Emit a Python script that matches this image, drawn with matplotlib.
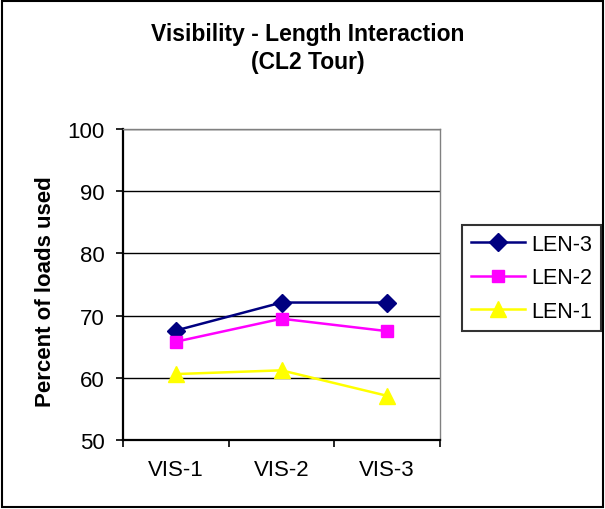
import matplotlib
matplotlib.use("Agg")
import matplotlib.pyplot as plt
from matplotlib.patches import Rectangle

plt.rcParams["font.family"] = ["Liberation Sans", "DejaVu Sans"]

# ── Data ────────────────────────────────────────────────────────────────────
CATEGORIES = ["VIS-1", "VIS-2", "VIS-3"]
LEN3 = [67.6, 72.1, 72.1]
LEN2 = [65.8, 69.5, 67.5]
LEN1 = [60.6, 61.2, 57.1]

SERIES = [
    ("LEN-3", LEN3, "#000080", "D", 9),
    ("LEN-2", LEN2, "#FF00FF", "s", 8.5),
    ("LEN-1", LEN1, "#FFFF00", "^", 11),
]

# ── Figure ──────────────────────────────────────────────────────────────────
fig = plt.figure(figsize=(6.05, 5.1), dpi=100)
fig.patches.append(Rectangle((0.004, 0.004), 0.992, 0.992,
                             transform=fig.transFigure, fill=False,
                             edgecolor="black", linewidth=1.5))

ax = fig.add_axes([0.2033, 0.1353, 0.5240, 0.6098])
x = list(range(1, len(CATEGORIES) + 1))

for label, vals, color, marker, ms in SERIES:
    ax.plot(x, vals, color=color, linewidth=1.8, marker=marker,
            markersize=ms, markerfacecolor=color, markeredgecolor=color,
            label=label, zorder=3)

ax.set_ylim(50, 100)
ax.set_yticks([50, 60, 70, 80, 90, 100])
ax.set_xlim(0.5, 3.5)
ax.set_xticks([0.5, 1.5, 2.5, 3.5])
ax.set_xticklabels([])
ax.set_xticks(x, minor=True)
ax.set_xticklabels(CATEGORIES, minor=True)
ax.tick_params(axis="x", which="major", direction="out", length=5,
               width=1.2, color="black")
ax.tick_params(axis="x", which="minor", length=0, pad=14, labelsize=16)
ax.tick_params(axis="y", direction="out", length=5, width=1.2,
               labelsize=16, pad=8)

ax.grid(axis="y", color="black", linewidth=1.0, zorder=0)
for side in ("top", "right"):
    ax.spines[side].set_color("#808080")
    ax.spines[side].set_linewidth(1.0)
for side in ("left", "bottom"):
    ax.spines[side].set_color("black")
    ax.spines[side].set_linewidth(1.6)

ax.set_ylabel("Percent of loads used", fontsize=16, fontweight="bold")
ax.yaxis.set_label_coords(-0.21, 0.48)

fig.text(0.508, 0.955, "Visibility - Length Interaction\n(CL2 Tour)",
         ha="center", va="top", fontsize=16.5, fontweight="bold",
         linespacing=1.3)

leg = fig.legend(loc="center left", bbox_to_anchor=(0.764, 0.453),
                 fontsize=15.5, frameon=True, fancybox=False,
                 edgecolor="black", handlelength=2.5, handletextpad=0.3,
                 borderpad=0.4, labelspacing=0.58, borderaxespad=0)
leg.get_frame().set_linewidth(1.5)

fig.savefig("out.png", dpi=100)
